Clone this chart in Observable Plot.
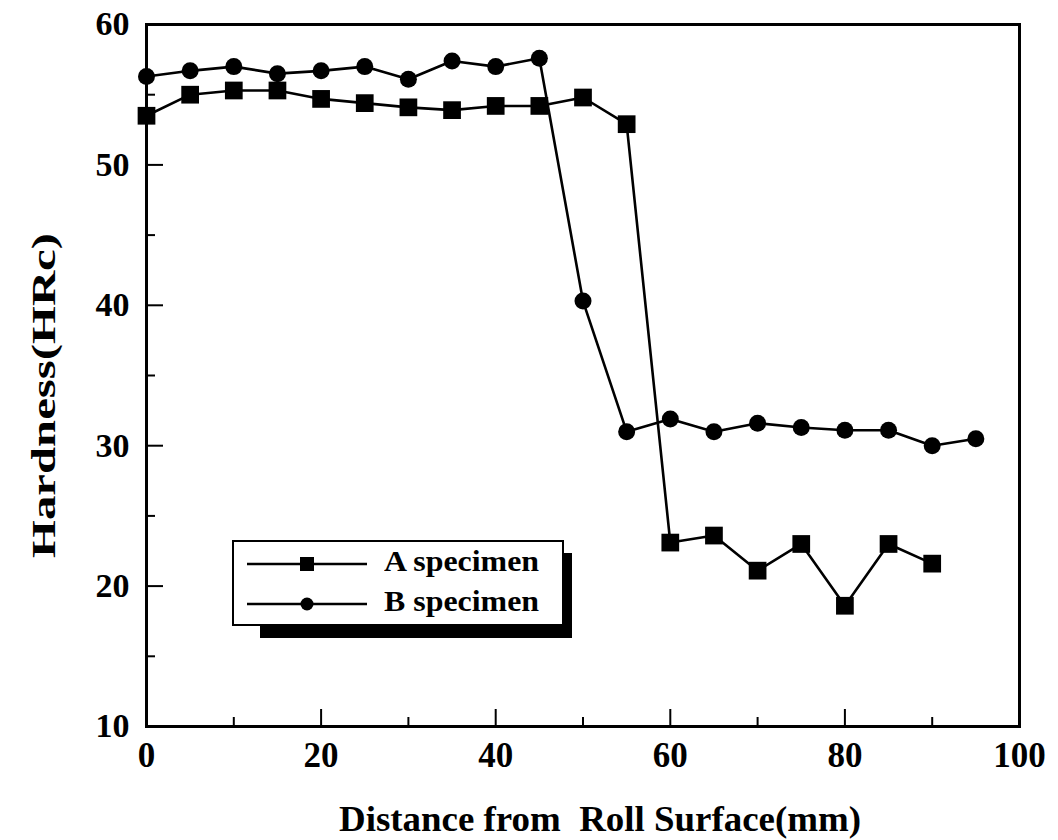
<!DOCTYPE html>
<html>
<head>
<meta charset="utf-8">
<script src="https://cdn.jsdelivr.net/npm/d3@7"></script>
<script src="https://cdn.jsdelivr.net/npm/@observablehq/plot@0.6"></script>
<style>
  html, body { margin: 0; padding: 0; background: #fff; }
  #wrap { position: relative; width: 1058px; height: 840px; overflow: hidden; font-family: "Liberation Serif", "DejaVu Serif", serif; }
  #legend-shadow { position: absolute; left: 260px; top: 553px; width: 312px; height: 85px; background: #000; }
  #legend { position: absolute; left: 232px; top: 540px; width: 328px; height: 82px; border: 2.5px solid #000; background: #fff; }
  .lrow { position: absolute; left: 0; height: 30px; width: 328px; }
  .lrow svg { position: absolute; left: 13px; top: 0; }
  .lrow span { position: absolute; left: 150px; top: -3px; font-weight: bold; font-size: 29px; line-height: 30px; color: #000; transform: scaleX(1.1); transform-origin: left center; white-space: nowrap; }
</style>
</head>
<body>
<div id="wrap">
  <div id="chart"></div>
  <div id="legend-shadow"></div>
  <div id="legend"></div>
</div>
<script>
// ---- data ----
const distanceA = [0, 5, 10, 15, 20, 25, 30, 35, 40, 45, 50, 55, 60, 65, 70, 75, 80, 85, 90];
const hardnessA = [53.5, 55.0, 55.3, 55.3, 54.7, 54.4, 54.1, 53.9, 54.2, 54.2, 54.8, 52.9, 23.1, 23.6, 21.1, 23.0, 18.6, 23.0, 21.6];
const distanceB = [0, 5, 10, 15, 20, 25, 30, 35, 40, 45, 50, 55, 60, 65, 70, 75, 80, 85, 90, 95];
const hardnessB = [56.3, 56.7, 57.0, 56.5, 56.7, 57.0, 56.1, 57.4, 57.0, 57.6, 40.3, 31.0, 31.9, 31.0, 31.6, 31.3, 31.1, 31.1, 30.0, 30.5];
const seriesNames = ["A specimen", "B specimen"];
const xTickLabels = [0, 20, 40, 60, 80, 100];
const xMinorTicks = [10, 30, 50, 70, 90];
const xMajorTicks = [20, 40, 60, 80];
const yTickLabels = [10, 20, 30, 40, 50, 60];
const yMinorTicks = [15, 25, 35, 45, 55];
const yMajorTicks = [20, 30, 40, 50];
const xTitle = "Distance from  Roll Surface(mm)";
const yTitle = "Hardness(HRc)";

const A = distanceA.map((d, i) => ({x: d, y: hardnessA[i], s: seriesNames[0]}));
const B = distanceB.map((d, i) => ({x: d, y: hardnessB[i], s: seriesNames[1]}));

const W = 1058, H = 840, mL = 146, mR = 39, mT = 24, mB = 114;
const pw = W - mL - mR, ph = H - mT - mB;

const chart = Plot.plot({
  width: W, height: H,
  marginLeft: mL, marginRight: mR, marginTop: mT, marginBottom: mB,
  style: { background: "#fff", fontFamily: "Liberation Serif, serif", fontWeight: "bold", color: "#000" },
  x: { domain: [0, 100], label: null },
  y: { domain: [10, 60], label: null },
  marks: [
    Plot.axisX({ticks: xTickLabels, tickSize: 0, tickPadding: 16, fontSize: 35, fontWeight: "bold", label: null}),
    Plot.axisY({ticks: yTickLabels, tickSize: 0, tickPadding: 17, fontSize: 34, fontWeight: "bold", label: null}),
    // inward ticks
    Plot.ruleX(xMajorTicks, {x: d => d, insetTop: ph - 17, stroke: "#000", strokeWidth: 2}),
    Plot.ruleX(xMinorTicks, {x: d => d, insetTop: ph - 9, stroke: "#000", strokeWidth: 2}),
    Plot.ruleY(yMajorTicks, {y: d => d, insetRight: pw - 17, stroke: "#000", strokeWidth: 2}),
    Plot.ruleY(yMinorTicks, {y: d => d, insetRight: pw - 9, stroke: "#000", strokeWidth: 2}),
    Plot.frame({stroke: "#000", strokeWidth: 3}),
    Plot.line(A, {x: "x", y: "y", stroke: "#000", strokeWidth: 2.6}),
    Plot.line(B, {x: "x", y: "y", stroke: "#000", strokeWidth: 2.6}),
    Plot.dot(A, {x: "x", y: "y", symbol: "square", r: 10, fill: "#000", stroke: "none"}),
    Plot.dot(B, {x: "x", y: "y", symbol: "circle", r: 8.5, fill: "#000", stroke: "none"}),
    Plot.text([xTitle], {frameAnchor: "bottom", dy: 93, dx: 17, lineAnchor: "middle", textAnchor: "middle", fontSize: 35, fontWeight: "bold", fill: "#000"}),
    Plot.text([yTitle], {frameAnchor: "left", dx: -102, dy: 20, rotate: -90, lineAnchor: "middle", textAnchor: "middle", fontSize: 34, fontWeight: "bold", fill: "#000"})
  ]
});
document.getElementById("chart").appendChild(chart);

// the scanned original has stretched lettering: widen the two titles along their reading direction
chart.querySelectorAll("text").forEach(t => {
  if (t.textContent === xTitle) { t.setAttribute("textLength", 522); t.setAttribute("lengthAdjust", "spacingAndGlyphs"); }
  if (t.textContent === yTitle) { t.setAttribute("textLength", 325); t.setAttribute("lengthAdjust", "spacingAndGlyphs"); }
});

// legend (HTML overlay)
const legend = document.getElementById("legend");
seriesNames.forEach((name, i) => {
  const row = document.createElement("div");
  row.className = "lrow";
  row.style.top = (i === 0 ? 7 : 47) + "px";
  const marker = i === 0
    ? '<rect x="53" y="8" width="14" height="14" fill="#000"/>'
    : '<circle cx="60" cy="15" r="6.5" fill="#000"/>';
  row.innerHTML = '<svg width="122" height="30"><line x1="0" y1="15" x2="120" y2="15" stroke="#000" stroke-width="2.5"/>' + marker + '</svg><span>' + name + '</span>';
  legend.appendChild(row);
});
</script>
</body>
</html>
